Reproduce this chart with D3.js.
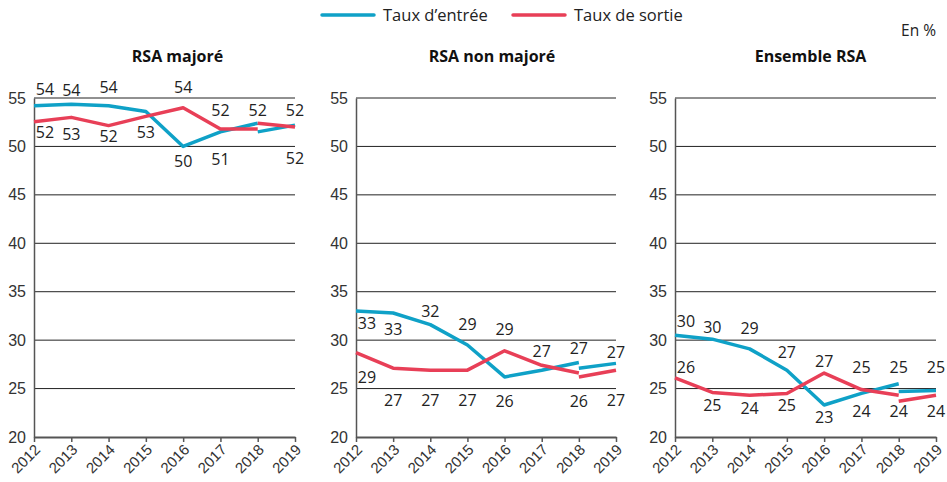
<!DOCTYPE html>
<html lang="fr">
<head>
<meta charset="utf-8">
<script src="https://cdn.jsdelivr.net/npm/d3@7"></script>
<style>
  body { margin: 0; background: #fff; }
  svg { display: block; font-family: "Open Sans", "Noto Sans", sans-serif; }
</style>
</head>
<body>
<div id="chart"></div>
<script>
// Taux d'entrée / de sortie du RSA, 2012-2019 (en %)
const YEARS = [2012, 2013, 2014, 2015, 2016, 2017, 2018, 2019];
const Y_TICKS = [20, 25, 30, 35, 40, 45, 50, 55];
const PANEL_TITLES = ["RSA majoré", "RSA non majoré", "Ensemble RSA"];
const SERIES_NAMES = ["Taux d\u2019entrée", "Taux de sortie"];

// 2012 -> 2018 (before the series break)
const entreeMajore = [54.2, 54.35, 54.2, 53.6, 50.0, 51.5, 52.4];
const sortieMajore = [52.55, 53.0, 52.15, 53.1, 54.0, 51.8, 51.8];
const entreeNonMajore = [33.0, 32.8, 31.6, 29.5, 26.2, 26.9, 27.7];
const sortieNonMajore = [28.7, 27.1, 26.9, 26.9, 28.9, 27.4, 26.6];
const entreeEnsemble = [30.5, 30.1, 29.1, 26.9, 23.3, 24.5, 25.5];
const sortieEnsemble = [26.1, 24.6, 24.3, 24.5, 26.6, 24.9, 24.3];

// 2018 -> 2019 (after the series break)
const entreeMajoreApres = [51.5, 52.2];
const sortieMajoreApres = [52.4, 52.0];
const entreeNonMajoreApres = [27.1, 27.6];
const sortieNonMajoreApres = [26.2, 26.9];
const entreeEnsembleApres = [24.7, 24.8];
const sortieEnsembleApres = [23.7, 24.3];

// value labels as printed (null = no label)
const labelsEntreeMajore = ["54", "54", "54", null, "50", "51", "52", "52"];
const labelsSortieMajore = ["52", "53", "52", "53", "54", "52", null, "52"];
const labelsEntreeNonMajore = ["33", "33", "32", "29", "26", null, "27", "27"];
const labelsSortieNonMajore = ["29", "27", "27", "27", "29", "27", "26", "27"];
const labelsEntreeEnsemble = ["30", "30", "29", "27", "23", "24", "25", "25"];
const labelsSortieEnsemble = ["26", "25", "24", "25", "27", "25", "24", "24"];

// label vertical offsets (px from the point), layout only
const dyEntree = [
  [-16, -14, -18, 0, 15, 27, -13, -15],
  [12, 16, -13, -21, 24, 0, -14, -11],
  [-14, -12, -20, -18, 12, 18, -16, -23]
];
const dySortie = [
  [11, 17, 11, 16, -20, -19, 0, 31],
  [25, 32, 30, 30, -21, -14, 28, 30],
  [-11, 13, 13, 12, -12, -22, 16, 16]
];

const panels = [
  { title: PANEL_TITLES[0], entree: entreeMajore, sortie: sortieMajore,
    entree2: entreeMajoreApres, sortie2: sortieMajoreApres,
    lblE: labelsEntreeMajore, lblS: labelsSortieMajore },
  { title: PANEL_TITLES[1], entree: entreeNonMajore, sortie: sortieNonMajore,
    entree2: entreeNonMajoreApres, sortie2: sortieNonMajoreApres,
    lblE: labelsEntreeNonMajore, lblS: labelsSortieNonMajore },
  { title: PANEL_TITLES[2], entree: entreeEnsemble, sortie: sortieEnsemble,
    entree2: entreeEnsembleApres, sortie2: sortieEnsembleApres,
    lblE: labelsEntreeEnsemble, lblS: labelsSortieEnsemble }
];

const W = 947, H = 482;
const BLUE = "#0fa1c7", RED = "#e83f57";
const panelX = [[34, 295], [356, 616], [675, 936]];
const titleDx = [13, 6, 5];
const plotTop = 98, plotBottom = 437;

const svg = d3.select("#chart").append("svg")
  .attr("width", W).attr("height", H);

const y = d3.scaleLinear().domain([20, 55]).range([plotBottom, plotTop]);

// Legend
const legend = svg.append("g").attr("transform", "translate(322,15)");
[BLUE, RED].forEach((c, i) => {
  const g = legend.append("g").attr("transform", `translate(${i * 191},0)`);
  g.append("line").attr("x1", 0).attr("x2", 52).attr("y1", 0).attr("y2", 0)
    .attr("stroke", c).attr("stroke-width", 3.5).attr("stroke-linecap", "round");
  g.append("text").attr("x", 61).attr("dy", "0.35em")
    .attr("font-size", 16.5).attr("fill", "#222").text(SERIES_NAMES[i]);
});

svg.append("text").attr("x", 936).attr("y", 31).attr("dy", "0.35em")
  .attr("text-anchor", "end").attr("font-size", 15.5).attr("fill", "#222")
  .text("En %");

panels.forEach((p, pi) => {
  const [x0, x1] = panelX[pi];
  const x = d3.scalePoint().domain(YEARS).range([x0, x1]);
  const g = svg.append("g");

  g.append("text")
    .attr("x", (x0 + x1) / 2 + titleDx[pi]).attr("y", 56).attr("dy", "0.35em")
    .attr("text-anchor", "middle").attr("font-size", 16).attr("font-weight", 700)
    .attr("fill", "#111").text(p.title);

  // gridlines
  g.selectAll(".grid").data(Y_TICKS.filter(t => t > 20)).enter().append("line")
    .attr("x1", x0).attr("x2", x1)
    .attr("y1", d => y(d)).attr("y2", d => y(d))
    .attr("stroke", "#222").attr("stroke-width", 1);

  // y axis
  const ya = g.append("g").attr("transform", `translate(${x0},0)`)
    .call(d3.axisLeft(y).tickValues(Y_TICKS).tickSize(0).tickPadding(8));
  ya.select(".domain").attr("stroke", "#555").attr("stroke-width", 1.5);
  ya.selectAll("text").attr("font-size", 16).attr("fill", "#333")
    .attr("font-family", "inherit");

  // x axis
  const xa = g.append("g").attr("transform", `translate(0,${plotBottom})`)
    .call(d3.axisBottom(x).tickSize(5).tickSizeOuter(0));
  xa.select(".domain").attr("stroke", "#555").attr("stroke-width", 2);
  xa.selectAll(".tick line").attr("stroke", "#555").attr("stroke-width", 1.5);
  xa.selectAll("text")
    .attr("font-size", 15).attr("fill", "#333").attr("font-family", "inherit")
    .attr("text-anchor", "end")
    .attr("x", 0).attr("y", 0).attr("dx", 0).attr("dy", "0.35em")
    .attr("transform", "translate(3,10) rotate(-45)");

  const line = d3.line().x(d => x(d[0])).y(d => y(d[1]));
  const seg1 = vals => vals.map((v, i) => [YEARS[i], v]);
  const seg2 = vals => vals.map((v, i) => [YEARS[6 + i], v]);

  [[p.entree, p.entree2, BLUE], [p.sortie, p.sortie2, RED]].forEach(([a, b, c]) => {
    [seg1(a), seg2(b)].forEach(pts => {
      g.append("path").datum(pts).attr("d", line)
        .attr("fill", "none").attr("stroke", c).attr("stroke-width", 3.5)
        .attr("stroke-linejoin", "round");
    });
  });

  // value labels
  const valueAt = (s1, s2, i) => (i < 7 ? s1[i] : s2[1]);
  [[p.lblE, p.entree, p.entree2, dyEntree[pi]],
   [p.lblS, p.sortie, p.sortie2, dySortie[pi]]].forEach(([lbls, s1, s2, dys]) => {
    lbls.forEach((t, i) => {
      if (t == null) return;
      g.append("text")
        .attr("x", x(YEARS[i]) + (i === 0 ? 11 : 0))
        .attr("y", y(valueAt(s1, s2, i)) + dys[i])
        .attr("dy", "0.35em").attr("text-anchor", "middle")
        .attr("font-size", 16).attr("fill", "#222").text(t);
    });
  });
});
</script>
</body>
</html>
